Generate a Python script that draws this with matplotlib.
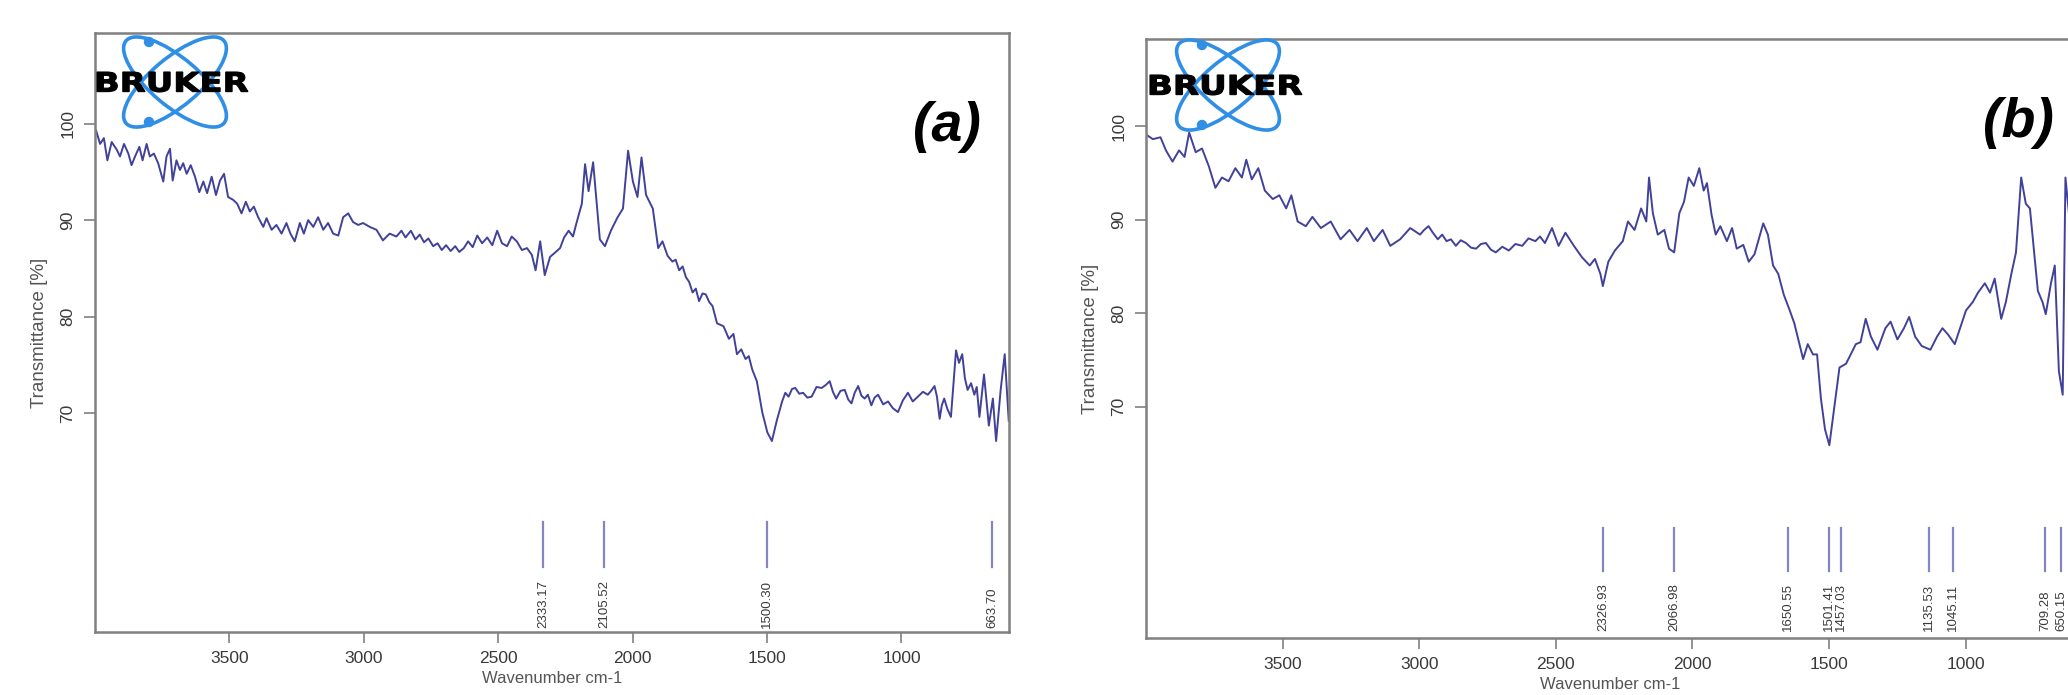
import matplotlib
matplotlib.use("Agg")
from matplotlib import pyplot as plt
from matplotlib.patches import Ellipse, Circle, PathPatch
from matplotlib.textpath import TextPath
from matplotlib.font_manager import FontProperties
from matplotlib.transforms import Affine2D

# ---- panel (a) spectrum: wavenumber (cm-1) / transmittance (%)
wn_a = [3996, 3981, 3967, 3954, 3938, 3919, 3907, 3892, 3876, 3864, 3851, 3835, 3823, 3808,
        3796, 3781, 3765, 3746, 3734, 3721, 3711, 3697, 3684, 3672, 3659, 3644, 3628, 3612,
        3597, 3583, 3566, 3550, 3535, 3520, 3505, 3486, 3471, 3455, 3439, 3424, 3409, 3393,
        3374, 3362, 3343, 3325, 3306, 3288, 3273, 3257, 3238, 3223, 3207, 3188, 3170, 3151,
        3133, 3114, 3095, 3077, 3058, 3040, 3021, 3003, 2978, 2953, 2929, 2904, 2879, 2860,
        2845, 2825, 2808, 2792, 2776, 2760, 2742, 2726, 2710, 2694, 2677, 2660, 2645, 2628,
        2612, 2595, 2578, 2560, 2541, 2522, 2504, 2486, 2467, 2450, 2431, 2412, 2393, 2375,
        2361, 2344, 2327, 2307, 2290, 2270, 2255, 2238, 2222, 2208, 2189, 2177, 2164, 2147,
        2135, 2122, 2103, 2081, 2056, 2036, 2017, 1999, 1982, 1967, 1950, 1925, 1905, 1889,
        1870, 1852, 1840, 1827, 1814, 1802, 1790, 1777, 1765, 1753, 1740, 1728, 1715, 1703,
        1686, 1662, 1642, 1625, 1612, 1596, 1580, 1568, 1555, 1538, 1518, 1499, 1482, 1464,
        1444, 1432, 1420, 1407, 1395, 1380, 1366, 1350, 1334, 1316, 1297, 1282, 1267, 1255,
        1243, 1227, 1211, 1198, 1186, 1174, 1161, 1149, 1137, 1125, 1112, 1100, 1087, 1068,
        1050, 1032, 1013, 995, 976, 958, 939, 920, 902, 890, 877, 868, 858, 850,
        841, 829, 816, 797, 786, 774, 764, 754, 741, 729, 720, 710, 693, 675,
        660, 648, 631, 616, 601]
t_a = [99.3, 97.9, 98.5, 96.2, 98.1, 97.3, 96.6, 97.9, 96.9, 95.7, 96.6, 97.6, 96.2, 97.9,
       96.6, 96.9, 95.9, 94.0, 96.6, 97.4, 94.1, 96.2, 95.2, 95.9, 94.8, 95.7, 94.5, 92.9,
       94.0, 92.8, 94.5, 92.6, 94.1, 94.8, 92.4, 92.1, 91.7, 90.7, 91.9, 90.9, 91.4, 90.3,
       89.3, 90.2, 89.0, 89.5, 88.6, 89.7, 88.6, 87.8, 89.7, 88.6, 90.0, 89.3, 90.3, 89.0,
       89.7, 88.6, 88.4, 90.3, 90.7, 89.8, 89.5, 89.7, 89.3, 89.0, 87.9, 88.6, 88.3, 88.9,
       88.2, 88.9, 88.0, 88.5, 87.7, 88.1, 87.3, 87.6, 86.9, 87.4, 86.8, 87.3, 86.7, 87.1,
       87.8, 87.2, 88.4, 87.6, 88.2, 87.4, 88.9, 87.6, 87.3, 88.3, 87.8, 86.9, 87.1, 86.4,
       84.8, 87.8, 84.3, 86.2, 86.6, 87.1, 88.2, 88.9, 88.3, 89.8, 91.7, 95.8, 93.0, 96.0,
       92.1, 88.0, 87.3, 88.9, 90.3, 91.2, 97.2, 94.0, 92.4, 96.5, 92.6, 91.2, 87.1, 87.8,
       86.3, 85.7, 85.9, 84.8, 85.2, 84.1, 83.6, 82.5, 82.9, 81.6, 82.4, 82.3, 81.5, 81.1,
       79.3, 79.0, 77.7, 78.2, 76.1, 76.6, 75.6, 75.9, 74.5, 73.3, 70.1, 68.0, 67.1, 69.2,
       71.2, 72.1, 71.7, 72.5, 72.6, 72.0, 72.1, 71.6, 71.7, 72.7, 72.6, 72.9, 73.3, 72.2,
       71.5, 72.3, 72.4, 71.4, 71.0, 72.1, 72.8, 71.8, 71.5, 71.9, 70.8, 71.6, 71.9, 70.9,
       71.2, 70.5, 70.1, 71.3, 72.1, 71.2, 71.7, 72.2, 71.9, 72.3, 72.8, 71.7, 69.4, 70.8,
       71.5, 70.4, 69.6, 76.5, 75.2, 76.1, 73.6, 72.4, 73.1, 71.9, 72.7, 69.6, 74.0, 68.7,
       71.5, 67.1, 72.4, 76.1, 69.2]
peaks_a = [2333.17, 2105.52, 1500.30, 663.70]

# ---- panel (b) spectrum
wn_b = [4000, 3975, 3947, 3927, 3903, 3879, 3859, 3842, 3818, 3795, 3770, 3746, 3722, 3698,
        3673, 3649, 3633, 3613, 3589, 3565, 3536, 3512, 3487, 3468, 3445, 3415, 3391, 3360,
        3324, 3288, 3255, 3226, 3192, 3166, 3134, 3106, 3070, 3033, 2997, 2982, 2966, 2950,
        2932, 2916, 2900, 2884, 2866, 2848, 2829, 2810, 2792, 2774, 2756, 2738, 2720, 2696,
        2672, 2648, 2623, 2600, 2575, 2558, 2540, 2514, 2490, 2465, 2434, 2405,
        2376, 2357, 2337, 2328, 2308, 2284, 2255, 2236, 2212, 2188, 2169, 2159, 2145, 2127,
        2103, 2086, 2067, 2048, 2031, 2014, 1995, 1975, 1959, 1947, 1930, 1915, 1898, 1874,
        1855, 1838, 1814, 1794, 1773, 1741, 1724, 1705, 1686, 1666, 1644, 1627, 1607, 1595,
        1578, 1559, 1544, 1530, 1515, 1499, 1481, 1462, 1438, 1421, 1402, 1385, 1366, 1347,
        1323, 1294, 1275, 1250, 1226, 1207, 1185, 1161, 1129, 1105, 1085, 1064, 1040, 1015,
        999, 974, 955, 930, 911, 894, 870, 853, 833, 816, 797, 780, 765, 748, 736, 719, 707,
        688, 674, 659, 645, 635, 620]
t_b = [99.1, 98.6, 98.8, 97.4, 96.2, 97.4, 96.7, 99.3, 97.2, 97.6, 95.7, 93.4, 94.5, 94.1,
       95.5, 94.5, 96.4, 94.3, 95.5, 93.1, 92.2, 92.6, 91.2, 92.6, 89.8, 89.3, 90.3, 89.1,
       89.8, 87.9, 88.9, 87.7, 89.1, 87.7, 88.9, 87.2, 87.9, 89.1, 88.4, 88.9, 89.3, 88.6,
       87.9, 88.4, 87.7, 87.9, 87.2, 87.8, 87.5, 87.0, 86.9, 87.4, 87.5, 86.8, 86.5, 87.1,
       86.7, 87.4, 87.2, 88.0, 87.7, 88.2, 87.5, 89.1, 87.2, 88.6, 87.2, 86.0,
       85.1, 85.8, 84.2, 82.9, 85.5, 86.7, 87.7, 89.8, 88.9, 91.2, 89.8, 94.5, 90.7, 88.4,
       88.9, 86.9, 86.5, 90.7, 91.9, 94.5, 93.6, 95.5, 93.1, 93.9, 90.5, 88.4, 89.3, 87.7,
       89.1, 86.9, 87.3, 85.5, 86.3, 89.6, 88.4, 85.1, 84.2, 82.0, 80.3, 78.9, 76.5, 75.1,
       76.7, 75.6, 75.6, 70.9, 67.6, 65.9, 69.9, 74.2, 74.6, 75.6, 76.7, 76.9, 79.4, 77.5,
       76.1, 78.4, 79.1, 77.2, 78.4, 79.6, 77.5, 76.5, 76.1, 77.5, 78.4, 77.7, 76.7, 78.9,
       80.3, 81.2, 82.2, 83.2, 82.2, 83.7, 79.4, 81.2, 84.2, 86.5, 94.5, 91.7, 91.2, 86.0,
       82.4, 81.2, 79.9, 83.2, 85.1, 73.8, 71.3, 94.5, 90.0]
peaks_b = [2326.93, 2066.98, 1650.55, 1501.41, 1457.03, 1135.53, 1045.11, 709.28, 650.15]

W, H = 2068, 695
LINE = '#41419a'
PEAK = '#8585c4'
SPINE = '#808080'
TXT = '#3a3a3a'

plt.rcParams['font.family'] = ['Liberation Sans', 'DejaVu Sans']
fig = plt.figure(figsize=(W / 100, H / 100), dpi=100)


def px_axes(left, top, right, bottom):
    return fig.add_axes([left / W, 1 - bottom / H, (right - left) / W, (bottom - top) / H])


def panel(ax, wn, t, peaks, ylim, peak_top, peak_bot, label_y):
    ax.plot(wn, t, color=LINE, lw=1.4)
    for p in peaks:
        ax.plot([p, p], [peak_bot, peak_top], color=PEAK, lw=1.6)
        ax.text(p, label_y, f'{p:.2f}', rotation=90, ha='center', va='bottom',
                fontsize=9.5, color=TXT)
    ax.set_xlim(4000, 600)
    ax.set_ylim(*ylim)
    ax.set_xticks([3500, 3000, 2500, 2000, 1500, 1000])
    ax.set_yticks([70, 80, 90, 100])
    ax.tick_params(axis='both', direction='out', length=8, width=1.2, color=SPINE,
                   labelsize=12.5, labelcolor=TXT, pad=6)
    for lab in ax.get_yticklabels():
        lab.set_rotation(90)
        lab.set_va('center')
    for s in ax.spines.values():
        s.set_color(SPINE)
        s.set_linewidth(1.8)
    ax.set_ylabel('Transmittance [%]', fontsize=13.5, color='#555555', labelpad=9)
    ax.set_xlabel('Wavenumber cm-1', fontsize=12, color='#555555', labelpad=3)


ax_a = px_axes(95, 33, 1009, 632)
panel(ax_a, wn_a, t_a, peaks_a, (47.3, 109.4), 58.7, 54.0, 47.7)
ax_b = px_axes(1146, 39, 2075, 638)
panel(ax_b, wn_b, t_b, peaks_b, (45.3, 109.3), 57.1, 52.5, 46.1)

# overlay in pixel coordinates for logos and panel letters
ov = fig.add_axes([0, 0, 1, 1], zorder=5)
ov.set_xlim(0, W)
ov.set_ylim(H, 0)
ov.axis('off')

word = TextPath((0, 0), 'BRUKER', size=1,
                prop=FontProperties(family='DejaVu Sans', weight='bold'))
wb = word.get_extents()


def logo(cx, cy, tx0, tw):
    blue = '#2f8fe6'
    for ang in (40, -40):
        ov.add_patch(Ellipse((cx, cy), 128, 48, angle=ang, fill=False, ec=blue, lw=2.6))
    for dy in (-40, 40):
        ov.add_patch(Circle((cx - 26, cy + dy), 4.5, color=blue))
    th = 20
    tr = (Affine2D().translate(-wb.x0, -wb.y0)
          .scale(tw / wb.width, -th / wb.height)
          .translate(tx0, cy + th / 2))
    ov.add_patch(PathPatch(tr.transform_path(word), fc='black', ec='black', lw=0.8))


logo(175, 82, 97, 151)
logo(1228, 85, 1150, 152)
ov.text(947, 127, '(a)', ha='center', va='center', fontsize=40, fontweight='bold',
        fontstyle='italic', color='black')
ov.text(2018, 123, '(b)', ha='center', va='center', fontsize=40, fontweight='bold',
        fontstyle='italic', color='black')

fig.savefig('out.png', dpi=100)
